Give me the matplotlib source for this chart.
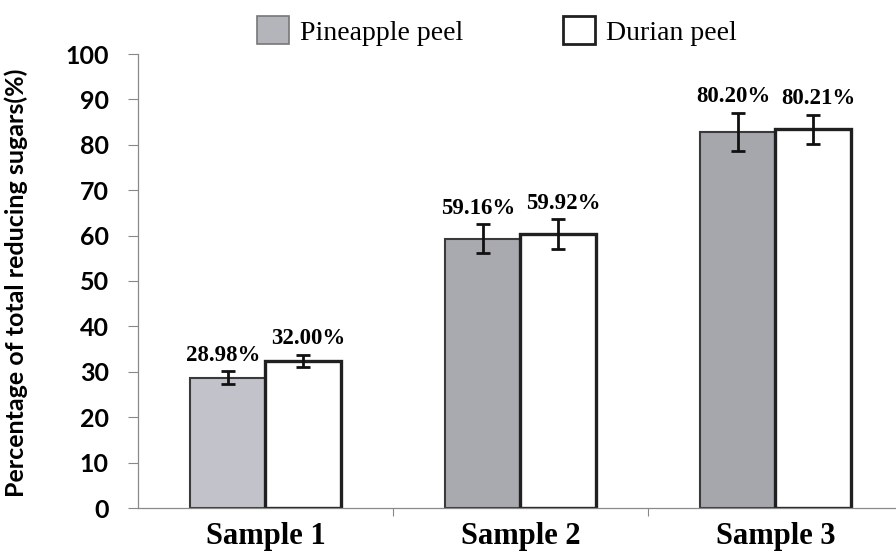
import matplotlib
matplotlib.use("Agg")
import matplotlib.pyplot as plt
from matplotlib.patches import Patch
from matplotlib.font_manager import FontProperties
import numpy as np

categories = ["Sample 1", "Sample 2", "Sample 3"]
series_names = ["Pineapple peel", "Durian peel"]
pineapple = [28.7, 59.3, 82.9]
durian = [32.4, 60.3, 83.4]
pineapple_err = [1.4, 3.2, 4.2]
durian_err = [1.4, 3.3, 3.2]
pineapple_labels = ["28.98%", "59.16%", "80.20%"]
durian_labels = ["32.00%", "59.92%", "80.21%"]
yticks = [0, 10, 20, 30, 40, 50, 60, 70, 80, 90, 100]

SERIF = ["Liberation Serif", "Times New Roman", "DejaVu Serif"]

W, H = 896, 552
fig = plt.figure(figsize=(W / 100, H / 100), dpi=100)
ax = fig.add_axes([138 / W, 44 / H, (903 - 138) / W, (498 - 44) / H])

x = np.arange(len(categories))
bw = 0.295
off = 0.147
pine_colors = ["#c2c2ca", "#a9a9b0", "#a6a6ad"]

ax.bar(x - off, pineapple, bw, color=pine_colors, edgecolor="#3a3a3a", linewidth=1.5, zorder=2)
ax.bar(x + off, durian, bw, color="white", edgecolor="#202020", linewidth=2.4, zorder=2)
ax.errorbar(x - off, pineapple, yerr=pineapple_err, fmt="none", ecolor="#111111",
            elinewidth=2.0, capsize=5, capthick=2.0, zorder=3)
ax.errorbar(x + off, durian, yerr=durian_err, fmt="none", ecolor="#111111",
            elinewidth=2.0, capsize=5, capthick=2.0, zorder=3)

lab_font = dict(family=SERIF, weight="bold", fontsize=16.5)
for i in range(len(categories)):
    ax.annotate(pineapple_labels[i], (x[i] - off - 0.02, pineapple[i] + pineapple_err[i]),
                xytext=(0, 4), textcoords="offset points", ha="center", va="bottom", **lab_font)
    ax.annotate(durian_labels[i], (x[i] + off + 0.02, durian[i] + durian_err[i]),
                xytext=(0, 4), textcoords="offset points", ha="center", va="bottom", **lab_font)

ax.set_xlim(-0.5, 2.5)
ax.set_ylim(0, 100)
ax.set_yticks(yticks)
ax.set_yticklabels([str(t) for t in yticks], family="Lato", weight="bold", fontsize=18)
ax.tick_params(axis="y", length=7, width=0.8, color="#888888", pad=14)

ax.set_xticks(x)
ax.set_xticklabels(categories, family=SERIF, weight="bold", fontsize=22)
ax.tick_params(axis="x", which="major", length=0, pad=10)
ax.set_xticks([0.5, 1.5], minor=True)
ax.tick_params(axis="x", which="minor", length=6, width=0.8, color="#888888", direction="out")

for s in ["top", "right"]:
    ax.spines[s].set_visible(False)
for s in ["left", "bottom"]:
    ax.spines[s].set_color("#8a8a8a")
    ax.spines[s].set_linewidth(0.9)

fig.text(16 / W, 1 - 283 / H, "Percentage of total reducing sugars(%)", rotation=90,
         ha="center", va="center", family="Lato", weight="bold", fontsize=18)

handles = [Patch(facecolor="#b4b4bb", edgecolor="#777777", linewidth=1.2),
           Patch(facecolor="white", edgecolor="#202020", linewidth=2.0)]
leg_fp = FontProperties(family=SERIF, weight="normal", size=20)
fig.legend(handles, series_names, loc="center left", bbox_to_anchor=(257 / W, 1 - 31 / H),
           ncol=2, frameon=False, borderpad=0, borderaxespad=0, prop=leg_fp,
           handlelength=1.15, handleheight=1.15, handletextpad=0.4, columnspacing=3.6)

fig.savefig("out.png", dpi=100)
